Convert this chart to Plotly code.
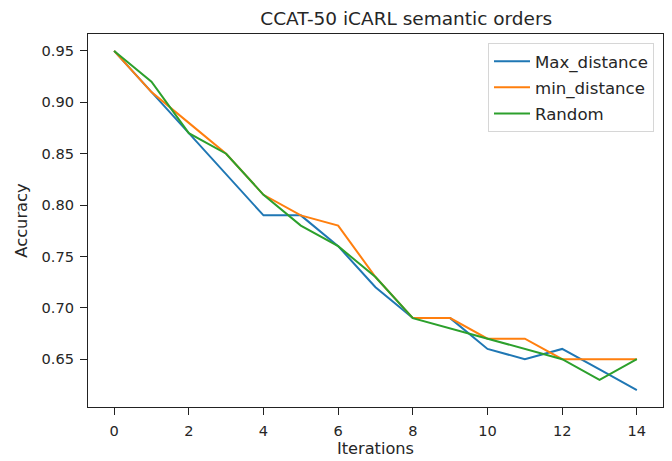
import plotly.graph_objects as go

iterations = list(range(15))
max_distance = [0.95, 0.91, 0.87, 0.83, 0.79, 0.79, 0.76, 0.72, 0.69, 0.69, 0.66, 0.65, 0.66, 0.64, 0.62]
min_distance = [0.95, 0.91, 0.88, 0.85, 0.81, 0.79, 0.78, 0.73, 0.69, 0.69, 0.67, 0.67, 0.65, 0.65, 0.65]
random_order = [0.95, 0.92, 0.87, 0.85, 0.81, 0.78, 0.76, 0.73, 0.69, 0.68, 0.67, 0.66, 0.65, 0.63, 0.65]
series_names = ["Max_distance", "min_distance", "Random"]
colors = ["#1f77b4", "#ff7f0e", "#2ca02c"]
x_ticks = [0, 2, 4, 6, 8, 10, 12, 14]
y_ticks = [0.65, 0.70, 0.75, 0.80, 0.85, 0.90, 0.95]

FONT = "DejaVu Sans"
TXT = "#262626"

# The page body has an 8px margin, so the figure is drawn 8px smaller.
W, H = 664, 453
L, R, T, B = 80, 9, 26, 54

fig = go.Figure()
for name, vals, c in zip(series_names, [max_distance, min_distance, random_order], colors):
    fig.add_trace(go.Scatter(x=iterations, y=vals, mode="lines", name=name, legendgroup=name,
                             line=dict(color=c, width=2)))

axis_common = dict(showline=True, linecolor="#222", linewidth=1.2, mirror=True,
                   ticks="outside", ticklen=7, tickcolor="#222", showgrid=False,
                   zeroline=False, automargin=False, ticklabelstandoff=3,
                   tickfont=dict(size=14.6, color=TXT, family=FONT))

plot_w = W - L - R
plot_h = H - T - B

fig.update_layout(
    width=W, height=H,
    margin=dict(l=L, r=R, t=T, b=B),
    paper_bgcolor="white", plot_bgcolor="white",
    font=dict(family=FONT, color=TXT),
    title=dict(text="CCAT-50 iCARL semantic orders", x=(L + plot_w / 2) / W, xref="paper",
               xanchor="center", y=1 - 11 / H, yanchor="middle",
               font=dict(size=18.5, family=FONT, color=TXT)),
    xaxis=dict(range=[-0.7, 14.7], tickvals=x_ticks, ticktext=[str(t) for t in x_ticks],
               title=dict(text="Iterations", font=dict(size=16.2, family=FONT, color=TXT), standoff=4),
               **axis_common),
    yaxis=dict(range=[0.6035, 0.9665], tickvals=y_ticks, ticktext=[f"{t:.2f}" for t in y_ticks],
               title=dict(text="Accuracy", font=dict(size=16.3, family=FONT, color=TXT), standoff=9),
               **axis_common),
    legend=dict(x=(646 - L) / plot_w, y=1 - (35 - T) / plot_h, xanchor="right", yanchor="top",
                bordercolor="#d6d6d6", borderwidth=1, bgcolor="rgba(255,255,255,0.8)",
                font=dict(size=16.6, family=FONT, color=TXT), tracegroupgap=1.5, itemwidth=36),
    showlegend=True,
)

fig.write_html("out.html")
